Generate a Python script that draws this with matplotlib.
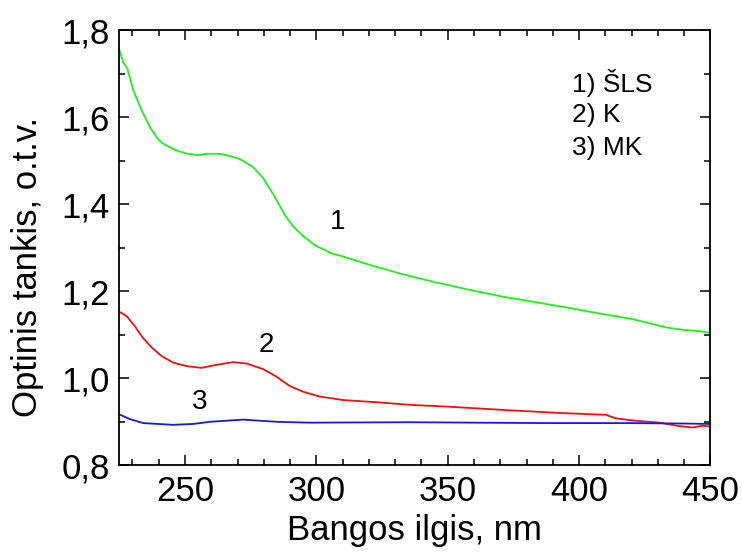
import matplotlib
matplotlib.use("Agg")
import matplotlib.pyplot as plt
from matplotlib.ticker import MultipleLocator, FuncFormatter

plt.rcParams['font.family'] = ['Liberation Sans', 'DejaVu Sans']

# Curve 1 (ŠLS) - green
x1 = [225, 226.5, 228, 230.3, 233.1, 236.7, 239.8, 242, 244.3, 247.5, 251.2, 255, 258.2,
      263.3, 267.1, 270, 272.1, 276, 279.8, 284.2, 288, 291.2, 295, 299.4, 305.8, 310.2,
      316.5, 319.1, 331.7, 344.4, 357.1, 369.8, 382.4, 395.1, 407.8, 420.4, 433.1, 440,
      445, 449.3, 450]
y1 = [1.755, 1.726, 1.713, 1.663, 1.621, 1.577, 1.549, 1.538, 1.531, 1.522, 1.516, 1.513,
      1.516, 1.516, 1.511, 1.506, 1.500, 1.485, 1.460, 1.417, 1.375, 1.349, 1.327, 1.306,
      1.287, 1.280, 1.268, 1.263, 1.241, 1.222, 1.205, 1.189, 1.176, 1.163, 1.149, 1.136,
      1.117, 1.111, 1.109, 1.105, 1.108]

# Curve 2 (K) - red
x2 = [225, 227.8, 231, 234.1, 237.3, 241.1, 245.5, 250.6, 256.3, 262, 268.3, 273.4,
      279.8, 284.8, 289.9, 295, 301.3, 310.2, 322.9, 335.5, 349.5, 374.8, 393.8, 410.3,
      412, 414.1, 420.4, 430.6, 438.2, 443.3, 447, 450]
y2 = [1.153, 1.143, 1.119, 1.092, 1.071, 1.051, 1.036, 1.028, 1.024, 1.031, 1.037, 1.034,
      1.021, 1.004, 0.982, 0.969, 0.958, 0.950, 0.945, 0.939, 0.935, 0.926, 0.920, 0.916,
      0.912, 0.908, 0.903, 0.898, 0.890, 0.887, 0.891, 0.889]

# Curve 3 (MK) - blue
x3 = [225, 229.1, 234.1, 245.5, 253.1, 259.5, 272.1, 284.8, 297.5, 335.5, 360, 390,
      420, 440, 450]
y3 = [0.917, 0.906, 0.897, 0.893, 0.895, 0.900, 0.905, 0.900, 0.898, 0.899, 0.898, 0.897,
      0.897, 0.896, 0.895]

legend_lines = ["1) ŠLS", "2) K", "3) MK"]

fig = plt.figure(figsize=(7.42, 5.53), dpi=100)
ax = fig.add_axes([0.1608, 0.1586, 0.7967, 0.7866])

ax.plot(x1, y1, color='#22ee22', lw=1.3)
ax.plot(x2, y2, color='#ee1111', lw=1.3)
ax.plot(x3, y3, color='#1a1acc', lw=1.3)

ax.set_xlim(225, 450)
ax.set_ylim(0.8, 1.8)
ax.xaxis.set_major_locator(MultipleLocator(50))
ax.xaxis.set_minor_locator(MultipleLocator(10))
ax.yaxis.set_major_locator(MultipleLocator(0.2))
ax.yaxis.set_minor_locator(MultipleLocator(0.1))
ax.yaxis.set_major_formatter(FuncFormatter(lambda v, p: f"{v:.1f}".replace('.', ',')))

ax.tick_params(which='both', direction='in', top=True, right=True, width=1.1,
               labelsize=25)
ax.tick_params(which='major', length=7, pad=7)
ax.tick_params(which='minor', length=4.5)
for s in ax.spines.values():
    s.set_linewidth(1.3)

ax.set_xlabel("Bangos ilgis, nm", fontsize=25, labelpad=4)
ax.set_ylabel("Optinis tankis, o.t.v.", fontsize=25)
ax.yaxis.set_label_coords(-0.127, 0.455)

ax.text(308.2, 1.359, "1", fontsize=20, ha='center', va='center')
ax.text(281.1, 1.077, "2", fontsize=20, ha='center', va='center')
ax.text(255.7, 0.946, "3", fontsize=20, ha='center', va='center')

for i, t in enumerate(legend_lines):
    ax.text(0.766, 0.879 - i * 0.0747, t, transform=ax.transAxes, fontsize=19,
            ha='left', va='center')

fig.savefig("out.png", dpi=100)
